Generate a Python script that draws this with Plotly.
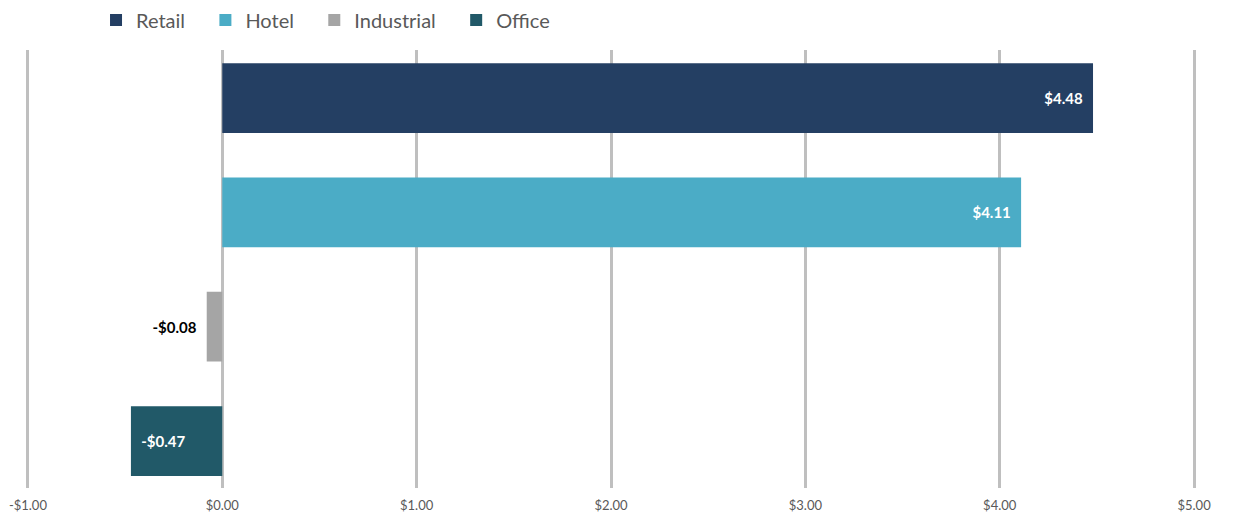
import plotly.graph_objects as go

categories = ["Retail", "Hotel", "Industrial", "Office"]
values = [4.48, 4.11, -0.08, -0.47]
colors = ["#243F63", "#4BACC6", "#A5A5A5", "#215968"]
label_colors = ["white", "white", "black", "white"]
label_positions = ["inside", "inside", "outside", "inside"]
tick_values = [-1, 0, 1, 2, 3, 4, 5]


def money(v):
    return ("-$" if v < 0 else "$") + f"{abs(v):.2f}"


tick_text = [money(v) for v in tick_values]

FONT = "Lato, Carlito, Calibri, sans-serif"
PAD = "\u00a0\u00a0"

fig = go.Figure()
for cat, val, col, lc, pos in zip(categories, values, colors, label_colors, label_positions):
    if pos == "inside":
        label = money(val) + PAD if val > 0 else PAD + money(val)
    else:
        label = money(val) + PAD
    fig.add_trace(go.Bar(
        y=[cat], x=[val], name=cat + "\u00a0\u00a0\u00a0", orientation="h",
        marker=dict(color=col, line=dict(width=0)),
        width=0.61,
        text=[label],
        textposition=pos,
        insidetextanchor="end",
        textangle=0,
        cliponaxis=False,
        textfont=dict(family=FONT, size=15, color=lc, weight="bold"),
        insidetextfont=dict(family=FONT, size=15, color=lc, weight="bold"),
        outsidetextfont=dict(family=FONT, size=15, color=lc, weight="bold"),
        hoverinfo="skip",
    ))

# page body has an 8px default margin, so the figure is drawn at (8, 8)
fig.update_layout(
    width=1231, height=510,
    margin=dict(l=17, r=42, t=42, b=30, autoexpand=False),
    paper_bgcolor="white", plot_bgcolor="white",
    barmode="relative",
    showlegend=True,
    legend=dict(orientation="h", x=0.0606, xanchor="left", y=1.0685, yanchor="middle",
                font=dict(family=FONT, size=20, color="#595959"),
                traceorder="normal", itemwidth=30, bgcolor="rgba(0,0,0,0)"),
    font=dict(family=FONT),
)
fig.update_xaxes(range=[-1.015, 5.015], tickvals=tick_values, ticktext=tick_text,
                 showgrid=True, gridcolor="#BFBFBF", gridwidth=2.5, zeroline=False,
                 showline=False, ticks="", tickfont=dict(family=FONT, size=13, color="#595959"),
                 ticklabelstandoff=8)
fig.update_yaxes(categoryorder="array", categoryarray=categories[::-1],
                 range=[-0.411, 3.42], showticklabels=False, showgrid=False,
                 zeroline=False, showline=False, ticks="")

fig.write_html("out.html")
